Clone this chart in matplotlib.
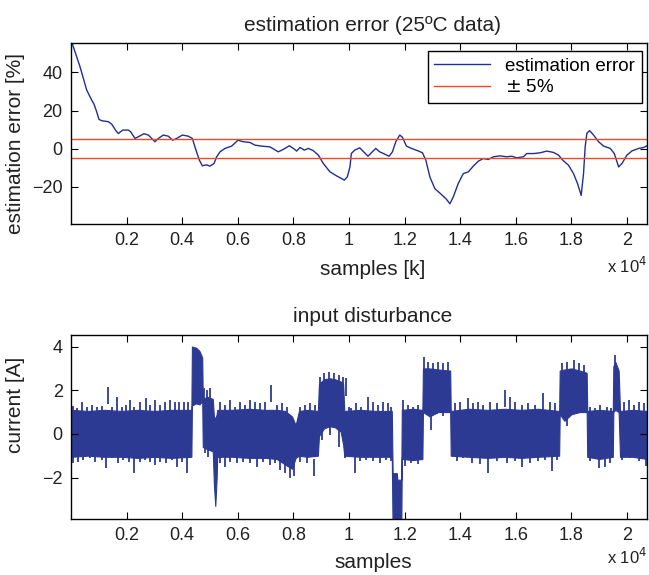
import matplotlib
matplotlib.use('Agg')
import matplotlib.pyplot as plt

plt.rcParams['font.family'] = ['Liberation Sans', 'DejaVu Sans']

# estimation error [%] vs sample index
err_x = [0, 324, 564, 744, 827, 923, 1007, 1103, 1343, 1463, 1619, 1703, 1859, 2062,
         2146, 2302, 2422, 2626, 2782, 3022, 3141, 3321, 3501, 3657, 3801, 4005, 4221,
         4365, 4496, 4616, 4724, 4880, 5000, 5144, 5240, 5360, 5540, 5779, 6007, 6199,
         6439, 6619, 6859, 7158, 7458, 7638, 7854, 7998, 8118, 8237, 8393, 8537, 8717,
         8897, 9077, 9317, 9556, 9736, 9832, 9940, 10036, 10084, 10204, 10385, 10529,
         10685, 10805, 10962, 11106, 11286, 11442, 11563, 11683, 11827, 11923, 12067,
         12248, 12488, 12644, 12765, 12909, 13089, 13270, 13486, 13630, 13750, 13930,
         14111, 14291, 14471, 14652, 14832, 15012, 15193, 15433, 15673, 15854, 16034,
         16274, 16394, 16635, 16875, 17115, 17356, 17536, 17692, 17897, 18077, 18221,
         18353, 18437, 18497, 18557, 18654, 18798, 18978, 19159, 19399, 19543, 19700,
         19820, 20000, 20181, 20421, 20601, 20721]
err_y = [57, 43, 30.8, 25.5, 23.4, 19.4, 15.4, 14.7, 14.2, 12.9, 9.4, 8.0, 9.8, 9.8,
         8.9, 5.4, 6.3, 7.9, 7.2, 3.7, 5.4, 7.2, 6.6, 4.5, 5.4, 7.2, 6.6,
         5.4, -0.7, -5.9, -8.9, -8.4, -9.1, -7.7, -4.2, -1.6, 0.2, 1.4, 4.5, 3.7,
         3.3, 1.9, 1.4, 1.0, -1.6, -0.3, 1.6, 0.2, -1.2, 0.7, -0.7, 0.2, -1.0,
         -3.3, -7.7, -12.1, -14.2, -15.6, -16.4, -14.7, -9.4, -2.5, -0.7, 0.5, -1.6,
         -3.9, -2.1, 0.2, -1.6, -2.8, -3.9, -1.6, 3.7, 7.2, 6.0, 1.4,
         0.2, -1.1, -2.1, -6.0, -14.7, -20.9, -23.2, -26.1, -28.8, -25.3, -18.2,
         -13.0, -12.1, -9.1, -6.5, -5.1, -5.6, -4.2, -3.7, -4.2, -3.9, -4.7,
         -4.2, -2.5, -2.5, -2.1, -1.2, -1.9, -3.3, -6.0, -8.6, -13.0, -18.2,
         -24.4, -13.0, 1.1, 8.1, 9.5, 7.2, 3.7, 1.4, 0.2, -2.5, -9.5,
         -7.7, -3.3, -1.1, 0.2, 0.7, 1.6]
band = 5

# input disturbance current [A]: solid core of the noisy trace (upper / lower edge)
cur_x = [0, 600, 1200, 1800, 2400, 3000, 3600, 4330,
         4350, 4500, 4620, 4720,
         4740, 4900, 5100,
         5140, 5190, 5240,
         5260, 5800, 6400, 7000, 7400, 7700, 7950,
         8080,
         8200, 8500, 8880,
         8920, 9100, 9300, 9500, 9700, 9790,
         9830, 10400, 11000, 11540,
         11570, 11720, 11740, 11880,
         11900, 12300, 12640,
         12660, 12900, 13200, 13640,
         13660, 14300, 15000, 15600, 16200, 16800, 17560,
         17580, 17750, 18000, 18300, 18550,
         18570, 19000, 19490,
         19510, 19580, 19700,
         19750, 20200, 20720]
cur_hi = [1.1, 1.05, 1.1, 1.05, 1.1, 1.05, 1.1, 1.1,
          4.0, 3.95, 3.8, 3.5,
          1.6, 1.7, 1.6,
          0.8, 0.7, 0.9,
          1.1, 1.1, 1.15, 1.1, 1.1, 1.05, 0.8,
          0.4,
          1.05, 1.1, 1.05,
          2.3, 2.5, 2.55, 2.5, 2.4, 2.3,
          1.05, 1.1, 1.05, 1.05,
          -1.8, -1.8, -2.1, -2.1,
          1.1, 1.15, 1.1,
          3.0, 3.0, 2.95, 2.9,
          1.05, 1.15, 1.1, 1.15, 1.1, 1.15, 1.05,
          2.9, 2.95, 3.0, 2.9, 2.8,
          1.05, 1.1, 1.05,
          3.1, 3.3, 2.9,
          1.05, 1.1, 1.05]
cur_lo = [-1.05, -1.0, -1.05, -1.05, -1.1, -1.05, -1.1, -1.05,
          1.3, 1.4, 1.35, 1.5,
          -0.6, -0.7, -0.8,
          -2.3, -3.3, -2.0,
          -1.05, -1.05, -1.1, -1.1, -1.15, -1.4, -1.6,
          -1.1,
          -1.0, -1.05, -1.0,
          -0.1, 0.25, 0.35, 0.3, 0.1, -0.5,
          -1.0, -1.05, -1.05, -1.05,
          -4.5, -4.5, -4.5, -4.5,
          -1.15, -1.2, -1.15,
          1.0, 0.8, 1.0, 1.0,
          -1.0, -1.05, -1.1, -1.05, -1.1, -1.05, -1.0,
          0.9, 0.6, 0.9, 1.0, 1.0,
          -1.05, -1.15, -1.05,
          1.0, 1.1, 1.0,
          -1.05, -1.05, -1.15]

# single-sample spikes sticking out of the core (tip values)
up_x = [84, 204, 384, 564, 744, 924, 1104, 1320, 1464, 1668, 1824, 1980, 2124, 2280,
        2484, 2700, 2844, 3024, 3204, 3384, 3564, 3744, 3900, 4068, 4224,
        4788, 4884, 5004, 5364, 5544, 5724, 5904, 6084, 6264, 6444, 6624, 6804, 6984,
        7200, 7404, 7584, 7764, 8244, 8424, 8604, 8784,
        8964, 9084, 9264, 9444, 9624, 9780, 9904, 9984,
        10084, 10264, 10445, 10685, 10865, 11046, 11226, 11406, 11527,
        11947, 12128, 12308, 12488,
        12692, 12849, 13029, 13209, 13390, 13570,
        13810, 13991, 14291, 14471, 14652, 14832, 15072, 15313, 15613, 15794, 15974,
        16214, 16455, 16695, 16995, 17236, 17416,
        17657, 17837, 18077, 18257, 18438,
        18678, 18859, 19039, 19279, 19423, 19580,
        19880, 20061, 20241, 20421, 20602]
up_y = [1.28, 1.18, 1.48, 1.22, 1.33, 1.22, 1.28, 2.17, 1.22, 1.71, 1.25, 1.33, 1.56, 1.25,
        1.48, 1.63, 1.33, 1.56, 1.33, 1.48, 1.56, 1.48, 1.48, 1.48, 1.48,
        2.1, 2.0, 2.1, 1.48, 1.33, 1.56, 1.25, 1.48, 1.33, 1.56, 1.48, 1.4, 1.48,
        2.24, 1.33, 1.4, 1.25, 1.25, 1.33, 1.4, 1.33,
        2.6, 2.8, 2.85, 2.8, 2.7, 2.6, 2.55, 1.25,
        1.18, 1.4, 1.25, 1.71, 1.48, 1.33, 1.48, 1.4, 1.25,
        1.56, 1.33, 1.25, 1.33,
        3.54, 3.31, 3.24, 3.31, 3.24, 3.31,
        1.4, 1.48, 1.63, 1.4, 1.48, 1.33, 1.48, 1.4, 2.02, 1.71, 1.48,
        1.33, 1.4, 1.33, 1.86, 1.48, 1.4,
        3.24, 3.31, 3.39, 3.24, 3.16,
        1.25, 1.18, 1.33, 1.25, 1.18, 3.62,
        1.48, 1.56, 1.33, 1.48, 1.4]
dn_x = [60, 264, 444, 684, 864, 1104, 1260, 1464, 1704, 1884, 2100, 2268, 2484, 2664,
        2844, 3024, 3204, 3420, 3624, 3804, 3984, 4164,
        4824, 4944, 5364, 5544, 5724, 5964, 6204, 6444, 6684, 6924, 7164, 7344, 7524,
        7704, 7884, 8004, 8244, 8484, 8724,
        9024, 9324, 9624, 9864,
        10204, 10385, 10625, 10865, 11106, 11346, 11527,
        12007, 12248, 12488,
        12933, 13149, 13390,
        13870, 14111, 14411, 14712, 15012, 15313, 15673, 15974, 16214, 16515, 16815,
        17055, 17296, 17476,
        17837, 18077,
        18678, 18979, 19219, 19399,
        19820, 20121, 20421, 20700]
dn_y = [-1.34, -1.27, -1.19, -1.11, -1.27, -1.19, -1.57, -1.11, -1.34, -1.19, -1.27, -1.8,
        -1.27, -1.19, -1.27, -1.42, -1.27, -1.34, -1.19, -1.5, -1.27, -1.77,
        -0.89, -1.04, -1.34, -1.5, -1.27, -1.34, -1.27, -1.34, -1.5, -1.27, -1.42, -1.34,
        -1.65, -1.8, -2.03, -1.95, -1.27, -1.34, -1.95,
        -0.27, -0.05, -0.58, -1.11,
        -1.8, -1.25, -1.18, -1.25, -1.33, -1.18, -1.25,
        -1.48, -1.33, -1.4,
        0.2, 0.89, 0.81,
        -1.25, -1.1, -1.33, -1.4, -1.79, -1.25, -1.33, -1.25, -1.5, -1.33, -1.25,
        -1.18, -1.71, -1.18,
        0.35, 0.89,
        -1.25, -1.56, -1.5, -1.33,
        -1.18, -1.1, -1.25, -1.48]

xticks = [2000, 4000, 6000, 8000, 10000, 12000, 14000, 16000, 18000, 20000]
xticklabels = ['0.2', '0.4', '0.6', '0.8', '1', '1.2', '1.4', '1.6', '1.8', '2']

blue = '#1f2f96'
fillc = '#2d3a93'
red = '#f04a24'
txt = '#222222'
fs = 15

fig = plt.figure(figsize=(6.49, 5.75), dpi=100)
ax1 = fig.add_axes([0.1094, 0.6104, 0.8875, 0.3148])
ax2 = fig.add_axes([0.1094, 0.0974, 0.8875, 0.3200])

ax1.plot(err_x, err_y, color=blue, lw=1.0, label='estimation error')
ax1.axhline(band, color=red, lw=1.0, label='$\\pm$ 5%')
ax1.axhline(-band, color=red, lw=1.0)
ax1.set_ylim(-39.4, 55.4)
ax1.set_yticks([-20, 0, 20, 40])
ax1.set_yticklabels(['\u221220', '0', '20', '40'])
leg = ax1.legend(loc='upper right', bbox_to_anchor=(0.991, 0.956), borderaxespad=0,
                 fancybox=False, edgecolor='black', framealpha=1, fontsize=13.5,
                 handlelength=3.0, borderpad=0.35, labelspacing=0.25)
leg.get_frame().set_linewidth(1.0)
ax1.set_title('estimation error (25\u00baC data)', fontsize=fs, color=txt, x=0.524, pad=9)
ax1.set_xlabel('samples [k]', fontsize=fs, color=txt)
ax1.set_ylabel('estimation error [%]', fontsize=fs, color=txt)
ax1.yaxis.set_label_coords(-0.080, 0.445)
ax1.xaxis.set_label_coords(0.524, -0.199)
ax1.text(1.0, -0.232, 'x 10$^4$', transform=ax1.transAxes, ha='right', va='center',
         fontsize=12, color=txt)

ax2.fill_between(cur_x, cur_lo, cur_hi, color=fillc, lw=0.8)
ax2.vlines(up_x, [y - 0.8 for y in up_y], up_y, color=fillc, lw=1.3)
ax2.vlines(dn_x, dn_y, [y + 0.8 for y in dn_y], color=fillc, lw=1.3)
ax2.set_ylim(-3.9, 4.53)
ax2.set_yticks([-2, 0, 2, 4])
ax2.set_yticklabels(['\u22122', '0', '2', '4'])
ax2.set_title('input disturbance', fontsize=fs, color=txt, x=0.524, pad=9)
ax2.set_xlabel('samples', fontsize=fs, color=txt)
ax2.set_ylabel('current [A]', fontsize=fs, color=txt)
ax2.yaxis.set_label_coords(-0.080, 0.62)
ax2.xaxis.set_label_coords(0.524, -0.185)
ax2.text(1.0, -0.205, 'x 10$^4$', transform=ax2.transAxes, ha='right', va='center',
         fontsize=12, color=txt)

for ax in (ax1, ax2):
    ax.set_xlim(0, 20720)
    ax.set_xticks(xticks)
    ax.set_xticklabels(xticklabels)
    ax.tick_params(direction='in', top=True, right=True, length=5, width=0.8,
                   labelsize=13, labelcolor=txt, pad=6)
    for s in ax.spines.values():
        s.set_linewidth(1.0)

fig.savefig('out.png', dpi=100)
